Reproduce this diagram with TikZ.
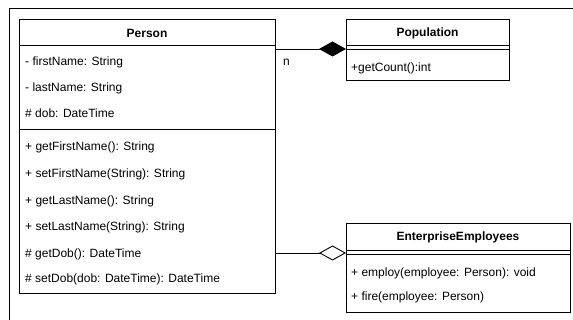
\documentclass[tikz,border=0pt]{standalone}
\usepackage{fontspec}
\setmainfont{Liberation Sans}
\usetikzlibrary{arrows.meta}
\begin{document}
\begin{tikzpicture}[x=1pt,y=-1pt,
  box/.style={draw=black,line width=0.9pt,inner sep=0pt,anchor=north west},
  lbl/.style={anchor=west,inner sep=0pt,font=\fontsize{12}{14}\selectfont},
  ttl/.style={inner sep=0pt,font=\fontsize{12}{14}\selectfont\bfseries},
  sep/.style={line width=0.9pt},
  conn/.style={line width=0.9pt}]
\useasboundingbox (0,0) rectangle (573,320);
\draw[line width=1pt] (9,320) -- (9,9) -- (573,9);
% Person
\node[box,minimum width=256pt,minimum height=274pt] (person) at (19,19) {};
\node[ttl] (pt) at (147,33) {Person};
\draw[sep] (19,45) -- (275,45);
\draw[sep] (19,129) -- (275,129);
\node[lbl] (a1) at (25,62) {- firstName: String};
\node[lbl] (a2) at (25,88) {- lastName: String};
\node[lbl] (a3) at (25,113) {\# dob: DateTime};
\node[lbl] (m1) at (25,147) {+ getFirstName(): String};
\node[lbl] (m2) at (25,174) {+ setFirstName(String): String};
\node[lbl] (m3) at (25,201) {+ getLastName(): String};
\node[lbl] (m4) at (25,227) {+ setLastName(String): String};
\node[lbl] (m5) at (25,254) {\# getDob(): DateTime};
\node[lbl] (m6) at (25,279) {\# setDob(dob: DateTime): DateTime};
% Population
\node[box,minimum width=163pt,minimum height=61pt] (pop) at (346,19) {};
\node[ttl] (popt) at (427.5,33) {Population};
\draw[sep] (346,45) -- (509,45);
\draw[sep] (346,49.5) -- (509,49.5);
\node[lbl] (p1) at (351,68) {+getCount():int};
% EnterpriseEmployees
\node[box,minimum width=224pt,minimum height=89pt] (ee) at (346,223) {};
\node[ttl] (eet) at (458,237) {EnterpriseEmployees};
\draw[sep] (346,250) -- (570,250);
\draw[sep] (346,254.5) -- (570,254.5);
\node[lbl] (e1) at (351,273) {+ employ(employee: Person): void};
\node[lbl] (e2) at (351,297) {+ fire(employee: Person)};
% connectors
\coordinate (ptop) at (275,49);
\coordinate (popin) at (346,49);
\coordinate (pbot) at (275,253);
\coordinate (eein) at (346,253);
\draw[conn,-{Diamond[length=27pt,width=15pt,fill=black]}] (ptop) -- (popin);
\draw[conn,-{Diamond[length=27pt,width=15pt,open,fill=white]}] (pbot) -- (eein);
\node[lbl] (n) at (283,62) {n};
\end{tikzpicture}
\end{document}
